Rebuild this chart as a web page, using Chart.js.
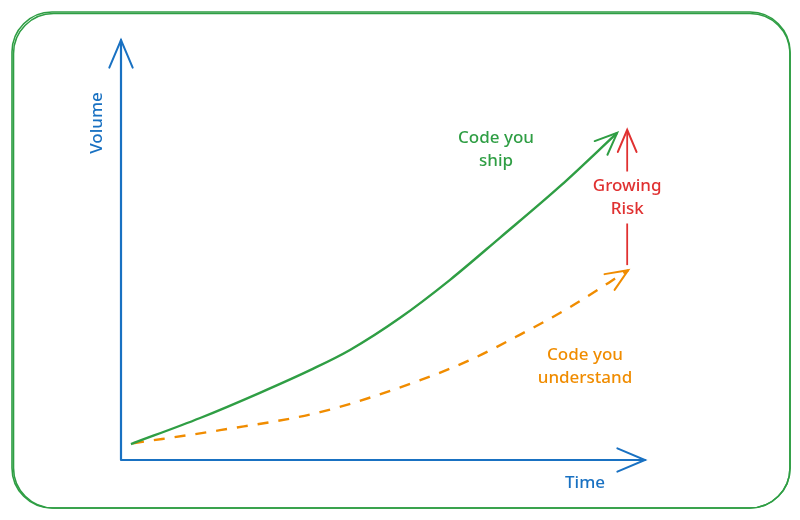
<!DOCTYPE html>
<html>
<head>
<meta charset="utf-8">
<script src="https://cdn.jsdelivr.net/npm/chart.js@4"></script>
<style>
  html, body { margin: 0; padding: 0; background: #fff; }
</style>
</head>
<body>
<canvas id="sketch" width="800" height="520"></canvas>
<script>
// values (x: time, y: volume, both 0-100)
const shipTime = [1.9, 15.1, 26.5, 36.6, 43.7, 53.2, 62.8, 72.3, 83.8, 94.7];
const shipVolume = [3.8, 10, 16, 21.7, 26.2, 33.8, 42.9, 52.9, 65.2, 77.9];
const understandTime = [2.3, 18.9, 38, 57.1, 66.6, 76.1, 85.7, 96.8];
const understandVolume = [4, 7.1, 11.4, 19, 23.8, 29.8, 36.4, 45.2];
const riskTime = [96.6, 96.6];
const riskVolume = [46.4, 78.6];

const GREEN = '#2f9e44';
const ORANGE = '#f08c00';
const RED = '#e03131';
const BLUE = '#1971c2';
const FONT = '"Noto Sans", sans-serif';

const toPoints = (xs, ys) => xs.map((x, i) => ({ x: x, y: ys[i] }));

function arrowHead(ctx, from, to, size, color) {
  const a = Math.atan2(to.y - from.y, to.x - from.x);
  ctx.save();
  ctx.strokeStyle = color;
  ctx.lineWidth = 2;
  ctx.lineCap = 'round';
  ctx.beginPath();
  ctx.moveTo(to.x - size * Math.cos(a - 0.4), to.y - size * Math.sin(a - 0.4));
  ctx.lineTo(to.x, to.y);
  ctx.lineTo(to.x - size * Math.cos(a + 0.4), to.y - size * Math.sin(a + 0.4));
  ctx.stroke();
  ctx.restore();
}

const sketchPlugin = {
  id: 'sketch',
  beforeDraw(chart) {
    const ctx = chart.ctx;
    // rounded frame
    ctx.save();
    ctx.strokeStyle = GREEN;
    ctx.lineWidth = 1.6;
    [0, 1.5].forEach(off => {
      ctx.beginPath();
      ctx.roundRect(12 + off, 12 + off, 778 - off, 496 - off, 40);
      ctx.stroke();
    });
    ctx.restore();
  },
  afterDatasetsDraw(chart) {
    const ctx = chart.ctx;
    const x = chart.scales.x, y = chart.scales.y;
    const ox = x.getPixelForValue(0), oy = y.getPixelForValue(0);
    const xEnd = x.getPixelForValue(100), yEnd = y.getPixelForValue(100);

    // axes
    ctx.save();
    ctx.strokeStyle = BLUE;
    ctx.lineWidth = 2.2;
    ctx.lineCap = 'round';
    ctx.beginPath();
    ctx.moveTo(ox, oy);
    ctx.lineTo(xEnd, oy);
    ctx.moveTo(ox, oy);
    ctx.lineTo(ox, yEnd);
    ctx.stroke();
    ctx.restore();
    arrowHead(ctx, { x: ox, y: oy }, { x: xEnd, y: oy }, 30, BLUE);
    arrowHead(ctx, { x: ox, y: oy }, { x: ox, y: yEnd }, 30, BLUE);

    // arrowheads on the series
    chart.data.datasets.forEach((ds, i) => {
      const pts = chart.getDatasetMeta(i).data;
      const n = pts.length;
      arrowHead(ctx, pts[n - 2], pts[n - 1], 24, ds.borderColor);
    });

    ctx.save();
    ctx.textAlign = 'center';
    ctx.textBaseline = 'middle';
    ctx.font = '500 17px ' + FONT;

    // risk label over the red arrow
    const rx = x.getPixelForValue(riskTime[0]);
    const ry = y.getPixelForValue((riskVolume[0] + riskVolume[1]) / 2);
    ctx.fillStyle = '#fff';
    ctx.fillRect(rx - 40, ry - 26, 80, 52);
    ctx.fillStyle = RED;
    ctx.fillText('Growing', rx, ry - 11);
    ctx.fillText('Risk', rx, ry + 12);

    ctx.fillStyle = GREEN;
    ctx.fillText('Code you', 496, 138);
    ctx.fillText('ship', 496, 161);

    ctx.fillStyle = ORANGE;
    ctx.fillText('Code you', 585, 355);
    ctx.fillText('understand', 585, 378);

    ctx.fillStyle = BLUE;
    ctx.fillText('Time', 585, 483);
    ctx.translate(97, 123);
    ctx.rotate(-Math.PI / 2);
    ctx.fillText('Volume', 0, 0);
    ctx.restore();
  }
};

new Chart(document.getElementById('sketch'), {
  type: 'scatter',
  data: {
    datasets: [
      {
        label: 'Code you ship',
        data: toPoints(shipTime, shipVolume),
        showLine: true,
        borderColor: GREEN,
        borderWidth: 2.4,
        pointRadius: 0,
        cubicInterpolationMode: 'monotone',
      },
      {
        label: 'Code you understand',
        data: toPoints(understandTime, understandVolume),
        showLine: true,
        borderColor: ORANGE,
        borderWidth: 2.4,
        borderDash: [11, 10],
        pointRadius: 0,
        cubicInterpolationMode: 'monotone',
      },
      {
        label: 'Growing Risk',
        data: toPoints(riskTime, riskVolume),
        showLine: true,
        borderColor: RED,
        borderWidth: 1.8,
        pointRadius: 0,
      }
    ]
  },
  options: {
    responsive: false,
    animation: false,
    layout: {
      padding: { left: 121, right: 155, top: 40, bottom: 60 }
    },
    plugins: {
      legend: { display: false },
      tooltip: { enabled: false }
    },
    scales: {
      x: { type: 'linear', min: 0, max: 100, display: false },
      y: { type: 'linear', min: 0, max: 100, display: false }
    }
  },
  plugins: [sketchPlugin]
});
</script>
</body>
</html>
